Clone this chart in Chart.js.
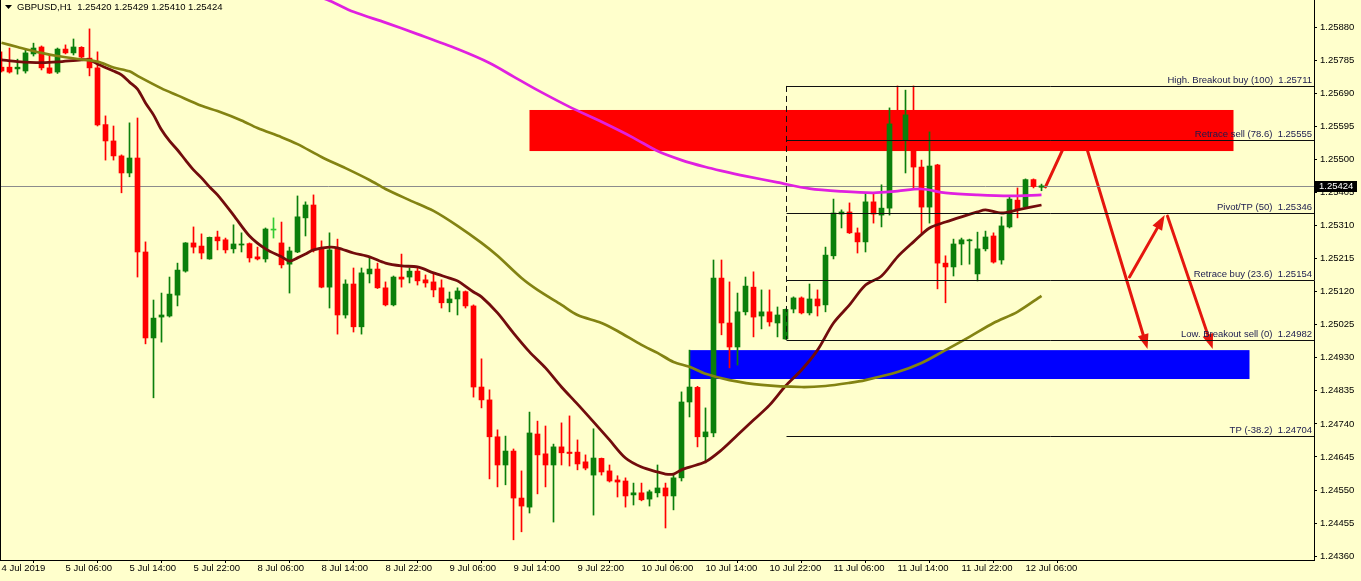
<!DOCTYPE html>
<html>
<head>
<meta charset="utf-8">
<title>GBPUSD H1</title>
<script src="https://cdn.jsdelivr.net/npm/chart.js@4.4.1/dist/chart.umd.min.js"></script>
<style>
  html, body { margin: 0; padding: 0; background: #ffffcc; }
  #wrap { width: 1361px; height: 581px; }
</style>
</head>
<body>
<div id="wrap"><canvas id="fx" width="1361" height="581"></canvas></div>
<script>
// hourly bars, 4 Jul 22:00 .. 12 Jul 08:00 (weekend skipped), index 0..130
var opens = [1.25765,1.25765,1.25760,1.25754,1.25803,1.25823,1.25763,1.25751,1.25817,1.25806,
  1.25822,1.25791,1.25763,1.25600,1.25553,1.25510,1.25461,1.25504,1.25234,1.24987,
  1.25047,1.25050,1.25110,1.25179,1.25260,1.25251,1.25214,1.25277,1.25269,1.25243,
  1.25254,1.25258,1.25220,1.25214,1.25297,1.25260,1.25199,1.25234,1.25332,1.25369,
  1.25246,1.25133,1.25246,1.25053,1.25142,1.25019,1.25171,1.25185,1.25131,1.25082,
  1.25162,1.25162,1.25179,1.25154,1.25148,1.25131,1.25088,1.25099,1.25120,1.25079,
  1.24846,1.24809,1.24703,1.24622,1.24662,1.24527,1.24501,1.24711,1.24654,1.24622,
  1.24674,1.24659,1.24659,1.24631,1.24593,1.24641,1.24605,1.24579,1.24576,1.24536,
  1.24542,1.24524,1.24542,1.24556,1.24533,1.24585,1.24803,1.24845,1.24703,1.24714,
  1.25159,1.25030,1.24961,1.25062,1.25133,1.25050,1.25062,1.25030,1.24984,1.25070,
  1.25102,1.25059,1.25099,1.25082,1.25223,1.25343,1.25349,1.25289,1.25263,1.25378,
  1.25340,1.25360,1.25602,1.25556,1.25628,1.25478,1.25363,1.25484,1.25202,1.25191,
  1.25257,1.25266,1.25171,1.25243,1.25280,1.25211,1.25306,1.25383,1.25363,1.25442,
  1.25420];
var highs = [1.25809,1.25820,1.25788,1.25814,1.25834,1.25826,1.25800,1.25820,1.25829,1.25846,
  1.25824,1.25875,1.25809,1.25625,1.25596,1.25513,1.25605,1.25619,1.25263,1.25096,
  1.25116,1.25162,1.25202,1.25261,1.25306,1.25286,1.25277,1.25294,1.25274,1.25312,
  1.25289,1.25260,1.25248,1.25303,1.25332,1.25320,1.25248,1.25395,1.25378,1.25398,
  1.25266,1.25289,1.25271,1.25154,1.25188,1.25188,1.25217,1.25202,1.25148,1.25165,
  1.25228,1.25188,1.25188,1.25168,1.25171,1.25154,1.25119,1.25131,1.25122,1.25082,
  1.24927,1.24838,1.24723,1.24705,1.24668,1.24605,1.24774,1.24748,1.24734,1.24682,
  1.24743,1.24763,1.24694,1.24651,1.24726,1.24642,1.24622,1.24591,1.24585,1.24570,
  1.24570,1.24550,1.24622,1.24570,1.24596,1.24832,1.24952,1.24848,1.24786,1.25211,
  1.25211,1.25148,1.25116,1.25162,1.25177,1.25125,1.25125,1.25076,1.25070,1.25105,
  1.25105,1.25142,1.25125,1.25248,1.25386,1.25355,1.25375,1.25303,1.25404,1.25404,
  1.25427,1.25648,1.25711,1.25699,1.25711,1.25498,1.25579,1.25486,1.25223,1.25271,
  1.25274,1.25271,1.25291,1.25294,1.25289,1.25335,1.25392,1.25418,1.25444,1.25444,
  1.25429];
var lows = [1.25751,1.25748,1.25745,1.25748,1.25797,1.25757,1.25747,1.25747,1.25803,1.25800,
  1.25791,1.25740,1.25596,1.25498,1.25498,1.25404,1.25450,1.25162,1.24970,1.24815,
  1.24975,1.25047,1.25079,1.25176,1.25231,1.25214,1.25213,1.25240,1.25231,1.25231,
  1.25234,1.25205,1.25211,1.25205,1.25274,1.25188,1.25116,1.25232,1.25280,1.25234,
  1.25131,1.25073,1.24998,1.25044,1.25004,1.24998,1.25145,1.25129,1.25079,1.25079,
  1.25133,1.25145,1.25139,1.25133,1.25105,1.25073,1.25062,1.25053,1.25073,1.24817,
  1.24786,1.24582,1.24559,1.24565,1.24407,1.24430,1.24484,1.24539,1.24559,1.24458,
  1.24622,1.24619,1.24608,1.24608,1.24478,1.24593,1.24573,1.24530,1.24501,1.24507,
  1.24519,1.24504,1.24530,1.24441,1.24493,1.24576,1.24760,1.24674,1.24628,1.24703,
  1.24996,1.24901,1.24909,1.25053,1.24990,1.25013,1.25021,1.24990,1.24983,1.25059,
  1.25056,1.25053,1.25050,1.25062,1.25214,1.25303,1.25287,1.25231,1.25234,1.25317,
  1.25306,1.25340,1.25541,1.25461,1.25418,1.25289,1.25317,1.25128,1.25088,1.25165,
  1.25197,1.25199,1.25151,1.25237,1.25202,1.25199,1.25303,1.25332,1.25362,1.25418,
  1.25410];
var closes = [1.25754,1.25751,1.25765,1.25806,1.25820,1.25763,1.25748,1.25817,1.25806,1.25823,
  1.25794,1.25763,1.25599,1.25553,1.25510,1.25461,1.25504,1.25234,1.24987,1.25044,
  1.25053,1.25113,1.25182,1.25260,1.25248,1.25231,1.25276,1.25266,1.25240,1.25257,
  1.25257,1.25217,1.25214,1.25300,1.25297,1.25197,1.25237,1.25335,1.25369,1.25240,
  1.25133,1.25240,1.25053,1.25142,1.25019,1.25174,1.25185,1.25131,1.25082,1.25162,
  1.25156,1.25179,1.25151,1.25145,1.25125,1.25088,1.25099,1.25122,1.25079,1.24846,
  1.24809,1.24703,1.24622,1.24662,1.24527,1.24504,1.24714,1.24651,1.24622,1.24674,
  1.24657,1.24655,1.24625,1.24613,1.24642,1.24602,1.24576,1.24573,1.24533,1.24542,
  1.24522,1.24545,1.24556,1.24533,1.24585,1.24803,1.24846,1.24703,1.24717,1.25159,
  1.25030,1.24961,1.25062,1.25136,1.25047,1.25062,1.25033,1.25053,1.25069,1.25102,
  1.25059,1.25099,1.25079,1.25225,1.25346,1.25349,1.25289,1.25263,1.25378,1.25343,
  1.25360,1.25602,1.25556,1.25628,1.25478,1.25363,1.25481,1.25202,1.25191,1.25257,
  1.25269,1.25269,1.25243,1.25277,1.25205,1.25309,1.25386,1.25355,1.25442,1.25422,
  1.25424];

// moving averages (bar index -> price)
var maFastBars = [0,2,5,7,10,11,12,14,15,16,17,18,19,20,21,22,23,24,25,26,27,29,31,33,35,36,37,38,39,41,
  42,44,46,48,50,52,54,56,57,59,60,62,64,66,68,70,72,74,76,78,80,82,83,84,85,86,88,90,92,94,
  96,98,100,102,104,106,108,110,112,114,116,118,120,122,123,125,127,130];
var maFastVals = [1.25786,1.25781,1.25778,1.25780,1.25786,1.25786,1.25774,1.25754,1.25743,1.25722,
  1.25702,1.25662,1.25628,1.25585,1.25553,1.25527,1.25498,1.25470,1.25447,1.25421,
  1.25398,1.25340,1.25280,1.25243,1.25220,1.25208,1.25217,1.25228,1.25240,1.25248,
  1.25246,1.25231,1.25220,1.25202,1.25194,1.25191,1.25174,1.25159,1.25151,1.25119,
  1.25105,1.25059,1.25001,1.24947,1.24901,1.24846,1.24797,1.24746,1.24694,1.24642,
  1.24616,1.24602,1.24596,1.24596,1.24608,1.24616,1.24631,1.24665,1.24708,1.24751,
  1.24794,1.24849,1.24895,1.24952,1.25030,1.25082,1.25139,1.25165,1.25220,1.25263,
  1.25303,1.25320,1.25335,1.25349,1.25355,1.25346,1.25355,1.25369];
var maMidBars = [0,2,5,7,10,12,14,16,17,20,22,25,27,30,32,35,37,40,43,46,48,51,54,57,60,62,65,67,70,72,
  75,77,80,82,84,86,88,91,95,100,103,106,108,112,115,118,121,124,127,130];
var maMidVals = [1.25835,1.25823,1.25806,1.25797,1.25787,1.25781,1.25764,1.25753,1.25740,1.25704,
  1.25684,1.25654,1.25639,1.25612,1.25590,1.25564,1.25544,1.25507,1.25475,1.25441,
  1.25415,1.25383,1.25352,1.25309,1.25260,1.25223,1.25159,1.25125,1.25082,1.25053,
  1.25030,1.25007,1.24967,1.24944,1.24918,1.24904,1.24884,1.24866,1.24852,1.24846,
  1.24849,1.24858,1.24866,1.24889,1.24915,1.24952,1.24990,1.25030,1.25062,1.25108];
var maSlowBars = [38,41,44,48,52,57,61,64,67,71,75,79,82,85,88,90,93,97,101,105,109,112,115,118,122,126,130];
var maSlowVals = [1.25981,1.25956,1.25924,1.25893,1.25860,1.25817,1.25777,1.25738,1.25699,1.25651,
  1.25608,1.25562,1.25524,1.25498,1.25478,1.25467,1.25452,1.25434,1.25416,1.25408,
  1.25404,1.25409,1.25415,1.25404,1.25398,1.25395,1.25398];

// axis ticks
var timeTicks = [0,8,16,24,32,40,48,56,64,72,80,88,96,104,112,120,128];
var timeTickLabels = ['4 Jul 2019','5 Jul 06:00','5 Jul 14:00','5 Jul 22:00','8 Jul 06:00','8 Jul 14:00',
  '8 Jul 22:00','9 Jul 06:00','9 Jul 14:00','9 Jul 22:00','10 Jul 06:00','10 Jul 14:00','10 Jul 22:00',
  '11 Jul 06:00','11 Jul 14:00','11 Jul 22:00','12 Jul 06:00'];
var priceTicks = [1.24360,1.24455,1.24550,1.24645,1.24740,1.24835,1.24930,1.25025,1.25120,
  1.25215,1.25310,1.25405,1.25500,1.25595,1.25690,1.25785,1.25880];

// drawn objects
var zoneFrom = [66, 86];
var zoneTo = [154, 156];
var zoneHigh = [1.25642, 1.24952];
var zoneLow = [1.25524, 1.24869];
var zoneColors = ['#ff0000', '#0000ff'];

var fibNames = ['High. Breakout buy (100)','Retrace sell (78.6)','Pivot/TP (50)','Retrace buy (23.6)','Low. Breakout sell (0)','TP (-38.2)'];
var fibValues = [1.25711, 1.25555, 1.25346, 1.25154, 1.24982, 1.24704];
var fibBar = 98;

var arrowFromBar = [130.5, 134.9, 141.0, 145.75];
var arrowFromPrice = [1.25421, 1.25590, 1.25162, 1.25337];
var arrowToBar = [133.9, 143.25, 145.4, 151.4];
var arrowToPrice = [1.25590, 1.24955, 1.25340, 1.24955];

var symbolTitle = 'GBPUSD,H1  1.25420 1.25429 1.25410 1.25424';
var lastPrice = closes[closes.length - 1];

var FONT = '"Liberation Sans", Arial, sans-serif';
var BULL = '#0b7f0b';
var BEAR = '#ff0000';
var DOJI = '#33cc33';

function candleColor(i) {
    if (closes[i] === opens[i]) return DOJI;
    return closes[i] > opens[i] ? BULL : BEAR;
}

function pairs(xs, ys) {
    return xs.map(function (x, k) { return {x: x, y: ys[k]}; });
}

var wickData = lows.map(function (l, i) { return {x: i, y: [l, highs[i]]}; });
var bodyData = opens.map(function (o, i) { return {x: i, y: [o, closes[i]]}; });

function arrow(ctx, x1, y1, x2, y2) {
    var a = Math.atan2(y2 - y1, x2 - x1);
    var head = 15, half = 5.5;
    var bx = x2 - head * Math.cos(a), by = y2 - head * Math.sin(a);
    ctx.beginPath();
    ctx.moveTo(x1, y1);
    ctx.lineTo(bx, by);
    ctx.stroke();
    ctx.beginPath();
    ctx.moveTo(x2, y2);
    ctx.lineTo(bx + half * Math.sin(a), by - half * Math.cos(a));
    ctx.lineTo(bx - half * Math.sin(a), by + half * Math.cos(a));
    ctx.closePath();
    ctx.fill();
}

var overlay = {
    id: 'overlay',
    beforeDraw: function (chart) {
        var ctx = chart.ctx;
        ctx.save();
        ctx.fillStyle = '#ffffcc';
        ctx.fillRect(0, 0, chart.width, chart.height);
        ctx.restore();
    },
    beforeDatasetsDraw: function (chart) {
        var ctx = chart.ctx, xs = chart.scales.x, ys = chart.scales.y, area = chart.chartArea;
        ctx.save();
        ctx.beginPath();
        ctx.rect(area.left, area.top, area.right - area.left, area.bottom - area.top);
        ctx.clip();

        // arrows sit under the zones
        ctx.strokeStyle = '#e5160e';
        ctx.fillStyle = '#e5160e';
        ctx.lineWidth = 3;
        ctx.lineCap = 'round';
        for (var a = 0; a < arrowFromBar.length; a++) {
            arrow(ctx,
                xs.getPixelForValue(arrowFromBar[a]), ys.getPixelForValue(arrowFromPrice[a]),
                xs.getPixelForValue(arrowToBar[a]), ys.getPixelForValue(arrowToPrice[a]));
        }

        for (var k = 0; k < zoneFrom.length; k++) {
            var x1 = xs.getPixelForValue(zoneFrom[k]), x2 = xs.getPixelForValue(zoneTo[k]);
            var y1 = ys.getPixelForValue(zoneHigh[k]), y2 = ys.getPixelForValue(zoneLow[k]);
            ctx.fillStyle = zoneColors[k];
            ctx.fillRect(x1, y1, x2 - x1, y2 - y1);
        }
        // bid line
        var py = Math.round(ys.getPixelForValue(lastPrice)) + 0.5;
        ctx.strokeStyle = '#8c8c8c';
        ctx.lineWidth = 1;
        ctx.beginPath();
        ctx.moveTo(area.left, py);
        ctx.lineTo(area.right, py);
        ctx.stroke();
        ctx.restore();
    },
    afterDatasetsDraw: function (chart) {
        var ctx = chart.ctx, xs = chart.scales.x, ys = chart.scales.y, area = chart.chartArea;
        ctx.save();
        ctx.beginPath();
        ctx.rect(area.left, area.top, area.right - area.left, area.bottom - area.top);
        ctx.clip();

        // fibonacci levels
        var fx = Math.round(xs.getPixelForValue(fibBar)) + 0.5;
        ctx.strokeStyle = '#101010';
        ctx.lineWidth = 1;
        ctx.font = '9.5px ' + FONT;
        ctx.textAlign = 'right';
        ctx.textBaseline = 'bottom';
        for (var k = 0; k < fibValues.length; k++) {
            var fy = Math.round(ys.getPixelForValue(fibValues[k])) + 0.5;
            ctx.beginPath();
            ctx.moveTo(fx, fy);
            ctx.lineTo(area.right, fy);
            ctx.stroke();
            ctx.fillStyle = '#1a1a4e';
            ctx.fillText(fibNames[k] + '  ' + fibValues[k].toFixed(5), area.right - 2, fy - 1);
        }
        ctx.setLineDash([6, 4]);
        ctx.beginPath();
        ctx.moveTo(fx, ys.getPixelForValue(fibValues[0]));
        ctx.lineTo(fx, ys.getPixelForValue(fibValues[4]));
        ctx.stroke();
        ctx.setLineDash([]);
        ctx.restore();
    },
    afterDraw: function (chart) {
        var ctx = chart.ctx, ys = chart.scales.y, area = chart.chartArea;
        ctx.save();
        // left frame edge
        ctx.strokeStyle = '#000';
        ctx.lineWidth = 1;
        ctx.beginPath();
        ctx.moveTo(0.5, area.top);
        ctx.lineTo(0.5, area.bottom);
        ctx.stroke();

        // symbol header
        ctx.fillStyle = '#000';
        ctx.beginPath();
        ctx.moveTo(5, 5);
        ctx.lineTo(12, 5);
        ctx.lineTo(8.5, 9);
        ctx.closePath();
        ctx.fill();
        ctx.font = '9.5px ' + FONT;
        ctx.textAlign = 'left';
        ctx.textBaseline = 'middle';
        ctx.fillText(symbolTitle, 17, 7);

        // last price marker on the axis
        var py = Math.round(ys.getPixelForValue(lastPrice));
        ctx.fillStyle = '#000';
        ctx.fillRect(area.right + 1, py - 5, 42, 11);
        ctx.fillStyle = '#fff';
        ctx.fillText(lastPrice.toFixed(5), area.right + 5, py + 0.5);
        ctx.restore();
    }
};

new Chart(document.getElementById('fx'), {
    type: 'bar',
    data: {
        datasets: [
            {type: 'line', label: 'MA slow', data: pairs(maSlowBars, maSlowVals), borderColor: '#e020e0',
             borderWidth: 2.7, pointRadius: 0, tension: 0.3, order: 1},
            {type: 'line', label: 'MA mid', data: pairs(maMidBars, maMidVals), borderColor: '#838312',
             borderWidth: 2.7, pointRadius: 0, tension: 0.3, order: 2},
            {type: 'line', label: 'MA fast', data: pairs(maFastBars, maFastVals), borderColor: '#720c0c',
             borderWidth: 2.8, pointRadius: 0, tension: 0.3, order: 3},
            {label: 'body', data: bodyData, backgroundColor: function (c) { return candleColor(c.dataIndex); },
             barThickness: 5, minBarLength: 1, grouped: false, borderWidth: 0, order: 4},
            {label: 'wick', data: wickData, backgroundColor: function (c) { return candleColor(c.dataIndex); },
             barThickness: 1, grouped: false, borderWidth: 0, order: 5}
        ]
    },
    options: {
        responsive: false,
        devicePixelRatio: 1,
        animation: false,
        layout: {padding: 0, autoPadding: false},
        plugins: {legend: {display: false}, tooltip: {enabled: false}},
        scales: {
            x: {
                type: 'linear',
                offset: false,
                min: -0.1875,
                max: 164.0625,
                grid: {drawOnChartArea: false, drawTicks: true, tickLength: 3, color: '#000'},
                border: {display: true, color: '#000'},
                ticks: {
                    align: 'start',
                    autoSkip: false,
                    maxRotation: 0,
                    padding: 0,
                    color: '#000',
                    font: {family: FONT, size: 9.5},
                    callback: function (v, i) { return timeTickLabels[i]; }
                },
                afterBuildTicks: function (s) { s.ticks = timeTicks.map(function (v) { return {value: v}; }); },
                afterFit: function (s) { s.height = 21; s.paddingLeft = 0; s.paddingRight = 0; }
            },
            y: {
                type: 'linear',
                position: 'right',
                min: 1.24349,
                max: 1.25958,
                grid: {drawOnChartArea: false, drawTicks: true, tickLength: 3, color: '#000'},
                border: {display: true, color: '#000'},
                ticks: {
                    padding: 3,
                    color: '#000',
                    font: {family: FONT, size: 9.5},
                    callback: function (v) { return v.toFixed(5); }
                },
                afterBuildTicks: function (s) { s.ticks = priceTicks.map(function (v) { return {value: v}; }); },
                afterFit: function (s) { s.width = 47; s.paddingTop = 0; s.paddingBottom = 0; }
            }
        }
    },
    plugins: [overlay]
});
</script>
</body>
</html>
